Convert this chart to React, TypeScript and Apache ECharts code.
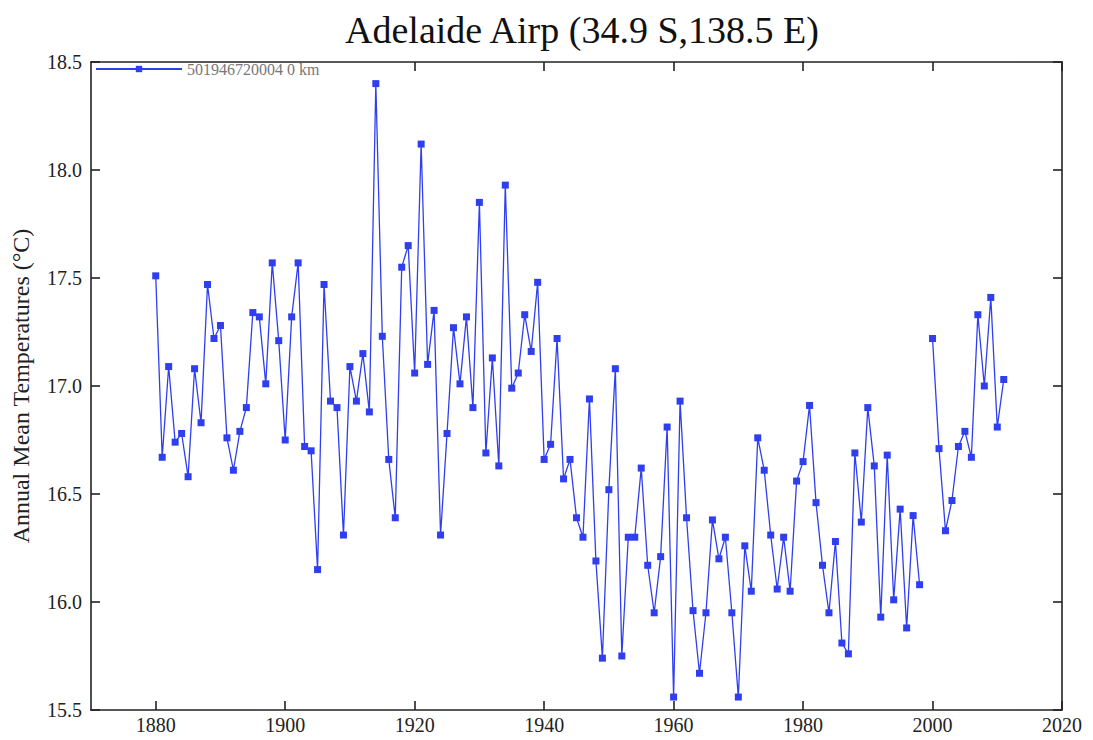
import React, { useEffect, useRef } from "react";
import * as echarts from "echarts";

const years: number[] = [
  1880, 1881, 1882, 1883, 1884, 1885, 1886, 1887, 1888, 1889,
  1890, 1891, 1892, 1893, 1894, 1895, 1896, 1897, 1898, 1899,
  1900, 1901, 1902, 1903, 1904, 1905, 1906, 1907, 1908, 1909,
  1910, 1911, 1912, 1913, 1914, 1915, 1916, 1917, 1918, 1919,
  1920, 1921, 1922, 1923, 1924, 1925, 1926, 1927, 1928, 1929,
  1930, 1931, 1932, 1933, 1934, 1935, 1936, 1937, 1938, 1939,
  1940, 1941, 1942, 1943, 1944, 1945, 1946, 1947, 1948, 1949,
  1950, 1951, 1952, 1953, 1954, 1955, 1956, 1957, 1958, 1959,
  1960, 1961, 1962, 1963, 1964, 1965, 1966, 1967, 1968, 1969,
  1970, 1971, 1972, 1973, 1974, 1975, 1976, 1977, 1978, 1979,
  1980, 1981, 1982, 1983, 1984, 1985, 1986, 1987, 1988, 1989,
  1990, 1991, 1992, 1993, 1994, 1995, 1996, 1997, 1998, 1999,
  2000, 2001, 2002, 2003, 2004, 2005, 2006, 2007, 2008, 2009,
  2010, 2011,
];

const temps: (number | null)[] = [
  17.51, 16.67, 17.09, 16.74, 16.78, 16.58, 17.08, 16.83, 17.47, 17.22,
  17.28, 16.76, 16.61, 16.79, 16.9, 17.34, 17.32, 17.01, 17.57, 17.21,
  16.75, 17.32, 17.57, 16.72, 16.7, 16.15, 17.47, 16.93, 16.9, 16.31,
  17.09, 16.93, 17.15, 16.88, 18.4, 17.23, 16.66, 16.39, 17.55, 17.65,
  17.06, 18.12, 17.1, 17.35, 16.31, 16.78, 17.27, 17.01, 17.32, 16.9,
  17.85, 16.69, 17.13, 16.63, 17.93, 16.99, 17.06, 17.33, 17.16, 17.48,
  16.66, 16.73, 17.22, 16.57, 16.66, 16.39, 16.3, 16.94, 16.19, 15.74,
  16.52, 17.08, 15.75, 16.3, 16.3, 16.62, 16.17, 15.95, 16.21, 16.81,
  15.56, 16.93, 16.39, 15.96, 15.67, 15.95, 16.38, 16.2, 16.3, 15.95,
  15.56, 16.26, 16.05, 16.76, 16.61, 16.31, 16.06, 16.3, 16.05, 16.56,
  16.65, 16.91, 16.46, 16.17, 15.95, 16.28, 15.81, 15.76, 16.69, 16.37,
  16.9, 16.63, 15.93, 16.68, 16.01, 16.43, 15.88, 16.4, 16.08, null,
  17.22, 16.71, 16.33, 16.47, 16.72, 16.79, 16.67, 17.33, 17.0, 17.41,
  16.81, 17.03,
];

const xTicks: number[] = [1880, 1900, 1920, 1940, 1960, 1980, 2000, 2020];
const topTicks: number[] = [1920, 1940, 1960, 1980, 2000, 2020];
const seriesName = "501946720004 0 km";
const titleText = "Adelaide Airp (34.9 S,138.5 E)";
const yAxisName = "Annual Mean Temperatures (°C)";

const SERIF = "'Liberation Serif', 'DejaVu Serif', serif";
const BLUE = "#2f3ff0";

export default function App() {
  const ref = useRef<HTMLDivElement>(null);

  useEffect(() => {
    if (!ref.current) return;
    const chart = echarts.init(ref.current, undefined, { renderer: "svg" });
    const data = years.map((y, i) => [y, temps[i]]);
    const axisLine = { show: true, lineStyle: { color: "#222", width: 1.6 } };
    const tick = {
      show: true,
      inside: true,
      length: 9,
      lineStyle: { color: "#222", width: 1.6 },
    };
    chart.setOption({
      animation: false,
      backgroundColor: "#fff",
      title: {
        text: titleText,
        left: 577,
        textAlign: "center",
        top: 6,
        textStyle: {
          fontFamily: SERIF,
          fontWeight: "normal",
          fontSize: 38,
          color: "#111",
        },
      },
      legend: {
        show: true,
        left: 90,
        top: 56,
        itemWidth: 86,
        itemHeight: 8,
        itemGap: 4,
        textStyle: { fontFamily: SERIF, fontSize: 16, color: "#777" },
        data: [seriesName],
      },
      grid: { left: 91, right: 31, top: 62, bottom: 30, containLabel: false },
      xAxis: [
        {
          type: "value",
          min: 1870,
          max: 2020,
          position: "bottom",
          axisLine,
          splitLine: { show: false },
          axisTick: { ...tick, customValues: xTicks },
          axisLabel: {
            customValues: xTicks,
            formatter: (v: number) => String(v),
            fontFamily: SERIF,
            fontSize: 20,
            color: "#222",
            margin: 5,
          },
        },
        {
          type: "value",
          min: 1870,
          max: 2020,
          position: "top",
          axisLine,
          splitLine: { show: false },
          axisTick: { ...tick, customValues: topTicks },
          axisLabel: { show: false },
        },
      ],
      yAxis: [
        {
          type: "value",
          min: 15.5,
          max: 18.5,
          interval: 0.5,
          position: "left",
          name: yAxisName,
          nameLocation: "middle",
          nameGap: 58,
          nameTextStyle: { fontFamily: SERIF, fontSize: 24, color: "#222" },
          axisLine,
          splitLine: { show: false },
          axisTick: tick,
          axisLabel: {
            fontFamily: SERIF,
            fontSize: 20,
            color: "#222",
            margin: 9,
            formatter: (v: number) => v.toFixed(1),
          },
        },
        {
          type: "value",
          min: 15.5,
          max: 18.5,
          interval: 0.5,
          position: "right",
          axisLine,
          splitLine: { show: false },
          axisTick: tick,
          axisLabel: { show: false },
        },
      ],
      series: [
        {
          name: seriesName,
          type: "line",
          xAxisIndex: 0,
          yAxisIndex: 0,
          data,
          connectNulls: false,
          symbol: "rect",
          symbolSize: 7,
          showSymbol: true,
          lineStyle: { color: BLUE, width: 1.3 },
          itemStyle: { color: BLUE },
        },
      ],
    });
    return () => chart.dispose();
  }, []);

  return <div ref={ref} style={{ width: 1093, height: 740, marginLeft: -8, marginTop: -8 }} />;
}
